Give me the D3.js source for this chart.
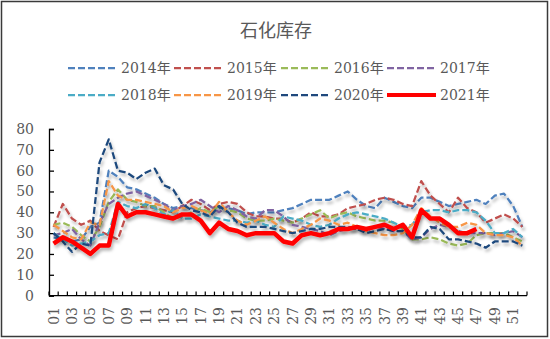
<!DOCTYPE html>
<html><head><meta charset="utf-8">
<script src="https://cdn.jsdelivr.net/npm/d3@7"></script>
<style>body{margin:0;background:#fff}svg{display:block}</style>
</head><body>
<svg id="c" width="550" height="339"></svg>
<script>
const title = "石化库存";
const weeks = d3.range(1, 53);
const xTickLabels = weeks.map(w => String(w).padStart(2, "0"));
const yTicks = [0, 10, 20, 30, 40, 50, 60, 70, 80];
const seriesNames = ["2014年","2015年","2016年","2017年","2018年","2019年","2020年","2021年"];
const seriesColors = ["#4F81BD","#C0504D","#9BBB59","#8064A2","#4BACC6","#F79646","#1F497D","#FF0000"];
const v2014 = [28,27,26,27,33,35,60,57,52,51,49,47,44,42,43,42,41,40,42,42,41,39,40,40,40,41,42,44,46,46,46,48,50,46,43,42,47,45,43,42,47,47,45,43,44,45,46,44,48,49,43,33];
const v2015 = [33,44,37,34,36,31,29,27,40,42,43,42,41,40,43,46,44,41,44,45,44,40,38,38,37,37,35,37,40,38,38,39,42,43,44,46,47,46,44,43,55,48,44,40,47,42,40,35,37,39,37,33];
const v2016 = [34,35,33,29,26,33,45,51,46,45,43,43,40,37,38,40,42,40,43,41,40,37,36,36,37,36,35,37,39,41,37,39,40,38,37,36,36,35,32,27,27,28,27,25,24,25,29,30,30,30,28,26];
const v2017 = [29,30,32,27,24,35,44,47,49,50,48,46,44,41,43,44,46,43,40,43,41,38,37,41,41,38,34,33,32,31,29,31,32,32,31,33,32,31,31,27,28,32,34,33,31,30,30,30,29,30,31,28];
const v2018 = [30,27,24,25,26,29,30,45,43,42,44,42,39,41,37,37,39,38,37,36,36,35,36,34,33,38,37,36,34,33,34,37,39,40,39,38,37,35,33,34,40,41,41,40,41,41,40,36,30,30,32,28];
const v2019 = [34,31,28,27,35,34,55,48,46,46,45,44,43,40,42,43,41,39,45,40,36,34,36,38,35,32,30,32,34,37,36,34,35,33,31,30,29,29,30,34,42,38,35,33,33,35,34,30,29,29,28,24];
const v2020 = [30,26,21,25,24,64,75,60,59,56,59,61,53,51,44,41,40,38,43,40,35,33,33,33,32,31,30,31,32,32,33,33,33,32,30,31,32,31,31,28,28,33,32,27,27,26,25,23,26,26,26,24];
const v2021 = [25,28,26,23,20,24,24,44,38,40,40,39,38,37,39,39,36,30,35,32,31,29,30,30,30,26,25,29,30,29,30,32,32,33,32,33,34,32,34,28,41,37,37,34,30,30,32];
const allSeries = [v2014,v2015,v2016,v2017,v2018,v2019,v2020,v2021];

const FONT = "'DejaVu Serif','Noto Sans CJK SC',serif";
const svg = d3.select("#c");
const defs = svg.append("defs");
const f = defs.append("filter").attr("id","sh").attr("x","-10%").attr("y","-10%").attr("width","130%").attr("height","140%");
f.append("feDropShadow").attr("dx",1.5).attr("dy",3).attr("stdDeviation",1.8).attr("flood-color","#000").attr("flood-opacity",0.28);

svg.append("rect").attr("x",1.5).attr("y",1.5).attr("width",546).attr("height",335)
  .attr("fill","#fff").attr("stroke","#3a3a3a").attr("stroke-width",1.5);

svg.append("text").attr("x",276).attr("y",37).attr("text-anchor","middle")
  .style("font-size","18px").style("fill","#595959")
  .style("font-family","'Noto Sans CJK SC',sans-serif").text(title);

const x = d3.scalePoint().domain(weeks).range([49, 527]).padding(0.5);
const y = d3.scaleLinear().domain([0, 80]).range([295.6, 129]);

// legend
const legX = [68, 174, 281, 387];
const legY = [68, 95];
seriesNames.forEach((n, i) => {
  const col = i % 4, row = Math.floor(i / 4);
  const g = svg.append("g").attr("transform", `translate(${legX[col]},${legY[row]})`);
  g.append("line").attr("x1",0).attr("x2",49).attr("y1",0).attr("y2",0)
    .attr("stroke",seriesColors[i]).attr("stroke-width", i===7?4:2.25)
    .attr("stroke-dasharray", i===7?null:"7,3");
  g.append("text").attr("x",53).attr("y",5).style("font-size","14px")
    .style("font-family",FONT).style("fill","#595959").text(n);
});

// y axis
const yAxis = svg.append("g").attr("transform","translate(49,0)")
  .call(d3.axisLeft(y).tickValues(yTicks).tickSize(-5).tickPadding(15));
yAxis.select(".domain").attr("stroke","#000").attr("stroke-width",1.3);
yAxis.selectAll(".tick line").attr("stroke","#000").attr("stroke-width",1.3);
yAxis.selectAll("text").style("font-size","14px").style("fill","#595959").style("font-family",FONT);

// x axis
const step = x.step();
const boundaries = d3.range(0, 53).map(i => 49 + i * step);
const xg = svg.append("g");
xg.append("line").attr("x1",49).attr("x2",527).attr("y1",295.6).attr("y2",295.6)
  .attr("stroke","#000").attr("stroke-width",1.3);
xg.selectAll("line.tk").data(boundaries).join("line").attr("class","tk")
  .attr("x1",d=>d).attr("x2",d=>d).attr("y1",295.6).attr("y2",291.6)
  .attr("stroke","#000").attr("stroke-width",1.2);
xg.selectAll("text").data(weeks.filter(w => w % 2 === 1)).join("text")
  .attr("transform", d => `translate(${x(d)+5},307) rotate(-90)`)
  .attr("text-anchor","end").style("font-size","14px")
  .style("font-family",FONT).style("fill","#595959")
  .text(d => xTickLabels[d-1]);

// lines
const line = d3.line().x((d,i) => x(weeks[i])).y(d => y(d));
allSeries.forEach((s, i) => {
  svg.append("path").datum(s).attr("d", line).attr("fill","none")
    .attr("stroke", seriesColors[i]).attr("stroke-width", i===7?4.5:2.25)
    .attr("stroke-dasharray", i===7?null:"7,3")
    .attr("stroke-linejoin","round")
    .attr("filter","url(#sh)");
});
</script>
</body></html>
